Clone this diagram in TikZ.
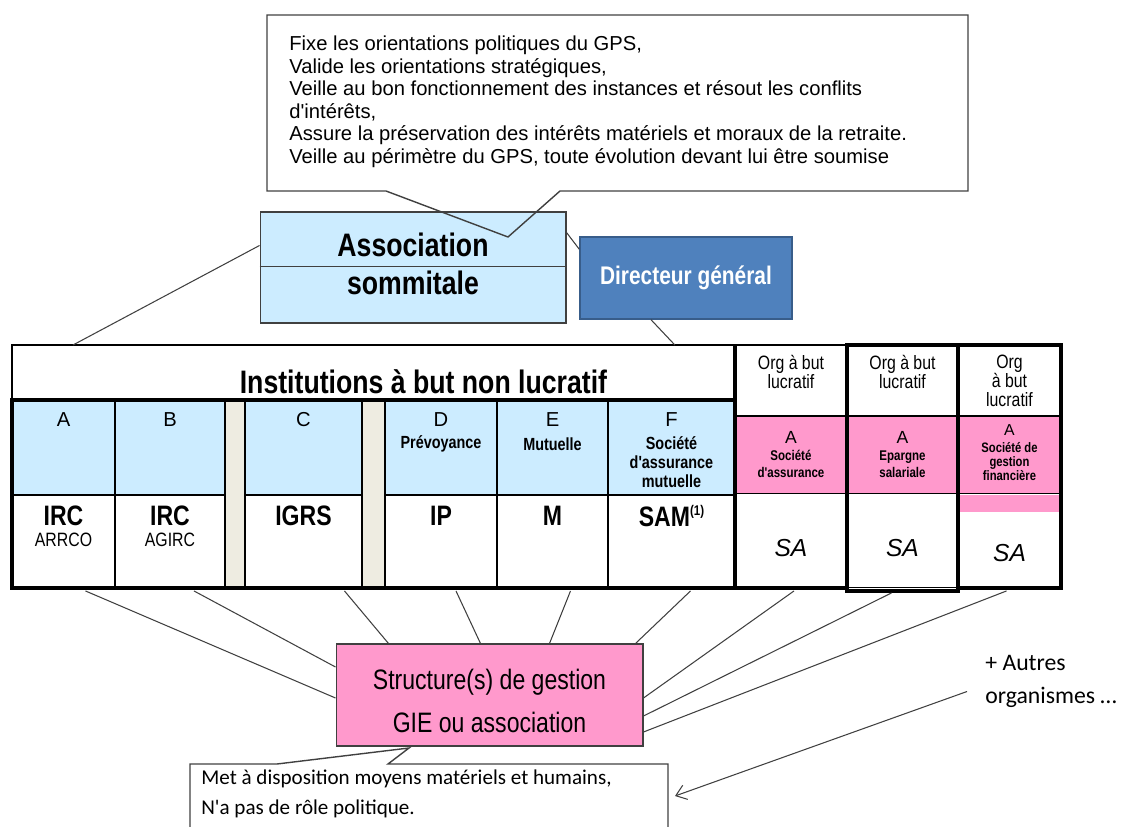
\documentclass[tikz,border=0pt]{standalone}
\usepackage{fontspec}
\setmainfont{Liberation Sans}
\newfontfamily\narrowfont[FakeStretch=0.82]{Liberation Sans}
\newfontfamily\calibfont{Carlito}
\usetikzlibrary{positioning,calc,arrows.meta}

\definecolor{skyfill}{RGB}{204,236,255}
\definecolor{dirfill}{RGB}{79,129,189}
\definecolor{dirline}{RGB}{56,93,138}
\definecolor{pinkfill}{RGB}{255,153,204}
\definecolor{stripfill}{RGB}{238,236,225}
\definecolor{linegray}{RGB}{64,64,64}

\begin{document}
\begin{tikzpicture}[
    x=0.02cm, y=-0.02cm,
    cell/.style={rectangle, draw=black, line width=0.6pt, inner sep=0pt, outer sep=0pt, anchor=north west},
    bluecell/.style={cell, fill=skyfill, minimum height=1.9cm},
    codecell/.style={cell, fill=white, minimum height=1.86cm},
    stripcell/.style={cell, fill=stripfill, minimum height=3.76cm},
    orgcell/.style={cell, fill=white, minimum height=1.42cm},
    pinkcell/.style={cell, fill=pinkfill, minimum height=1.56cm},
    sacell/.style={cell, fill=white, minimum height=1.88cm},
    letter/.style={inner sep=0pt, font=\fontsize{11.5}{13}\selectfont},
    kind/.style={inner sep=0pt, align=center, font=\narrowfont\bfseries\fontsize{10}{11}\selectfont},
    code/.style={inner sep=0pt, font=\narrowfont\bfseries\fontsize{16}{18}\selectfont},
    subcode/.style={inner sep=0pt, font=\narrowfont\fontsize{11}{12}\selectfont},
    orgtext/.style={inner sep=0pt, anchor=north, align=center, font=\narrowfont\fontsize{11}{10.8}\selectfont},
    pinktext/.style={inner sep=0pt, align=center, font=\narrowfont\bfseries\fontsize{8}{9.8}\selectfont},
    satext/.style={inner sep=0pt, font=\itshape\fontsize{14}{16}\selectfont},
    title/.style={inner sep=0pt, font=\narrowfont\bfseries\fontsize{18.5}{20}\selectfont},
    link/.style={draw=linegray, line width=0.6pt},
    note/.style={draw=linegray, line width=0.8pt, line join=miter},
    thickline/.style={draw=black, line width=1.8pt}
]
\useasboundingbox (0,0) rectangle (1126,827);

% association sommitale and directeur
\node[rectangle, draw=linegray, line width=0.6pt, fill=skyfill, minimum width=6.12cm, minimum height=2.22cm] (asso) at (413,267.5) {};
\draw[link] ($(asso.north west)+(0,55)$) -- ($(asso.north east)+(0,55)$);
\node[title] (assot1) at ($(asso.north)+(0,33)$) {Association};
\node[title] (assot2) at ($(asso.north)+(0,71)$) {sommitale};
\node[rectangle, draw=dirline, line width=0.8pt, fill=dirfill, text=white, minimum width=4.24cm, minimum height=1.64cm, font=\narrowfont\bfseries\fontsize{14.5}{16}\selectfont] (dg) at (686,278) {Directeur général};

% callout of the association
\draw[note] (267,15) -- (968,15) -- (968,191) -- (560,191) -- (508,237) -- (386,191) -- (267,191) -- cycle;
\node[anchor=north west, align=left, inner sep=0pt, font=\fontsize{11.5}{12.8}\selectfont] (mission) at (289,36) {Fixe les orientations politiques du GPS,\\
Valide les orientations stratégiques,\\
Veille au bon fonctionnement des instances et résout les conflits\\
d\textquotesingle intérêts,\\
Assure la préservation des intérêts matériels et moraux de la retraite.\\
Veille au périmètre du GPS, toute évolution devant lui être soumise};

% institutions a but non lucratif
\node[cell, fill=white, minimum width=14.46cm, minimum height=1.1cm] (inst) at (12,345) {};
\node[title] (instt) at ($(inst.north)+(50,37)$) {Institutions à but non lucratif};

\node[bluecell, minimum width=2.06cm] (hA) at (12,400) {};
\node[bluecell, minimum width=2.2cm] (hB) at (115,400) {};
\node[stripcell, minimum width=0.4cm] (s1) at (225,400) {};
\node[bluecell, minimum width=2.34cm] (hC) at (245,400) {};
\node[stripcell, minimum width=0.46cm] (s2) at (362,400) {};
\node[bluecell, minimum width=2.24cm] (hD) at (385,400) {};
\node[bluecell, minimum width=2.22cm] (hE) at (497,400) {};
\node[bluecell, minimum width=2.54cm] (hF) at (608,400) {};

\node[codecell, minimum width=2.06cm, below=0pt of hA] (wA) {};
\node[codecell, minimum width=2.2cm, below=0pt of hB] (wB) {};
\node[codecell, minimum width=2.34cm, below=0pt of hC] (wC) {};
\node[codecell, minimum width=2.24cm, below=0pt of hD] (wD) {};
\node[codecell, minimum width=2.22cm, below=0pt of hE] (wE) {};
\node[codecell, minimum width=2.54cm, below=0pt of hF] (wF) {};

\node[letter] (lA) at ($(hA.north)+(0,20)$) {A};
\node[letter] (lB) at ($(hB.north)+(0,20)$) {B};
\node[letter] (lC) at ($(hC.north)+(0,20)$) {C};
\node[letter] (lD) at ($(hD.north)+(0,20)$) {D};
\node[letter] (lE) at ($(hE.north)+(0,20)$) {E};
\node[letter] (lF) at ($(hF.north)+(0,20)$) {F};
\node[kind] (kD) at ($(hD.north)+(0,44)$) {Prévoyance};
\node[kind] (kE) at ($(hE.north)+(0,44)$) {Mutuelle};
\node[kind] (kF) at ($(hF.north)+(0,62)$) {Société\\d'assurance\\mutuelle};

\node[code] (cA) at ($(wA.north)+(0,21)$) {IRC};
\node[subcode] (sA) at ($(wA.north)+(0,45)$) {ARRCO};
\node[code] (cB) at ($(wB.north)+(0,21)$) {IRC};
\node[subcode] (sB) at ($(wB.north)+(0,45)$) {AGIRC};
\node[code] (cC) at ($(wC.north)+(0,21)$) {IGRS};
\node[code] (cD) at ($(wD.north)+(0,21)$) {IP};
\node[code] (cE) at ($(wE.north)+(0,21)$) {M};
\node[code] (cF) at ($(wF.north)+(0,21)$) {SAM\raisebox{6pt}{\fontsize{8}{8}\selectfont(1)}};

% organismes a but lucratif
\node[orgcell, minimum width=2.24cm] (org1) at (735,345) {};
\node[orgcell, minimum width=2.22cm] (org2) at (847,345) {};
\node[orgcell, minimum width=2.06cm] (org3) at (958,345) {};
\node[pinkcell, minimum width=2.24cm, below=0pt of org1] (pk1) {};
\node[pinkcell, minimum width=2.22cm, below=0pt of org2] (pk2) {};
\node[pinkcell, minimum width=2.06cm, below=0pt of org3] (pk3) {};
\node[sacell, minimum width=2.24cm, below=0pt of pk1] (sa1) {};
\node[sacell, minimum width=2.22cm, below=0pt of pk2] (sa2) {};
\node[sacell, minimum width=2.06cm, below=0pt of pk3] (sa3) {};
\node[fill=pinkfill, inner sep=0pt, minimum width=2.02cm, minimum height=0.34cm, anchor=north] (pk3x) at ($(pk3.south)+(0,1)$) {};

\node[orgtext] (ot1) at ($(org1.north)+(0,10)$) {Org à but\\lucratif};
\node[orgtext] (ot2) at ($(org2.north)+(0,10)$) {Org à but\\lucratif};
\node[orgtext] (ot3) at ($(org3.north)+(0,10)$) {Org\\à but\\lucratif};
\node[letter, font=\fontsize{10}{11}\selectfont] (pa1) at ($(pk1.north)+(0,21)$) {A};
\node[letter, font=\fontsize{10}{11}\selectfont] (pa2) at ($(pk2.north)+(0,21)$) {A};
\node[letter, font=\fontsize{9}{10}\selectfont] (pa3) at ($(pk3.north)+(0,14)$) {A};
\node[pinktext] (pt1) at ($(pk1.north)+(0,48)$) {Société\\d'assurance};
\node[pinktext] (pt2) at ($(pk2.north)+(0,48)$) {Epargne\\salariale};
\node[pinktext, font=\narrowfont\bfseries\fontsize{7.8}{8}\selectfont] (pt3) at ($(pk3.north)+(0,46)$) {Société de\\gestion\\financière};
\node[satext] (sat1) at ($(sa1.north)+(0,54)$) {SA};
\node[satext] (sat2) at ($(sa2.north)+(0,54)$) {SA};
\node[satext] (sat3) at ($(sa3.north)+(0,59)$) {SA};

% heavy borders
\draw[thickline] (hA.north west) rectangle (wF.south east);
\draw[thickline] (org1.north west) -- (sa1.south west) -- (sa1.south east);
\draw[thickline] (org2.north west) rectangle ($(sa2.south east)+(0,3)$);
\draw[thickline] (org3.north west) rectangle (sa3.south east);

% links at the top
\draw[link] ($(asso.west)+(0,-22)$) -- ($(inst.north west)+(61,0)$);
\draw[link] ($(asso.north east)+(0,21)$) -- ($(dg.north west)+(0,13)$);
\draw[link] ($(dg.south)+(-35,0)$) -- ($(inst.north east)+(-60,0)$);

% structure de gestion
\node[rectangle, draw=linegray, line width=0.6pt, fill=pinkfill, minimum width=6.14cm, minimum height=2.04cm] (gest) at (489.5,695) {};
\node[align=center, inner sep=0pt, font=\narrowfont\fontsize{16}{24}\selectfont] (gestt) at ($(gest.center)+(0,6)$) {Structure(s) de gestion\\GIE ou association};

\draw[link] ($(wA.south)+(22,3)$) -- ($(gest.west)+(0,3)$);
\draw[link] ($(wB.south)+(24,3)$) -- ($(gest.west)+(0,-28)$);
\draw[link] ($(wC.south)+(41,3)$) -- ($(gest.north)+(-101,0)$);
\draw[link] ($(wD.south)+(15,3)$) -- ($(gest.north)+(-9,0)$);
\draw[link] ($(wE.south)+(18,3)$) -- ($(gest.north)+(60,0)$);
\draw[link] ($(wF.south)+(19,3)$) -- ($(gest.north)+(146,0)$);
\draw[link] ($(sa1.south)+(3,3)$) -- ($(gest.east)+(0,3)$);
\draw[link] ($(sa2.south)+(-11,5)$) -- ($(gest.east)+(0,21)$);
\draw[link] ($(sa3.south)+(-3,3)$) -- ($(gest.east)+(0,37)$);

% callout of the structure
\draw[note] (190,827) -- (190,764) -- (277,764) -- (409,748) -- (388,764) -- (668,764) -- (668,827);
\node[anchor=north west, align=left, inner sep=0pt, font=\calibfont\fontsize{12}{17}\selectfont] (moyens) at (201,770) {Met à disposition moyens matériels et humains,\\N'a pas de rôle politique.};

% autres organismes
\node[anchor=north west, align=left, inner sep=0pt, font=\calibfont\fontsize{13.5}{18.8}\selectfont] (autres) at (985,655) {+ Autres\\organismes …};
\coordinate (noteedge) at (675,796);
\draw[link, -{Straight Barb[length=2mm, width=3mm]}] ($(autres.west)+(-18,10)$) -- (noteedge);
\end{tikzpicture}
\end{document}
